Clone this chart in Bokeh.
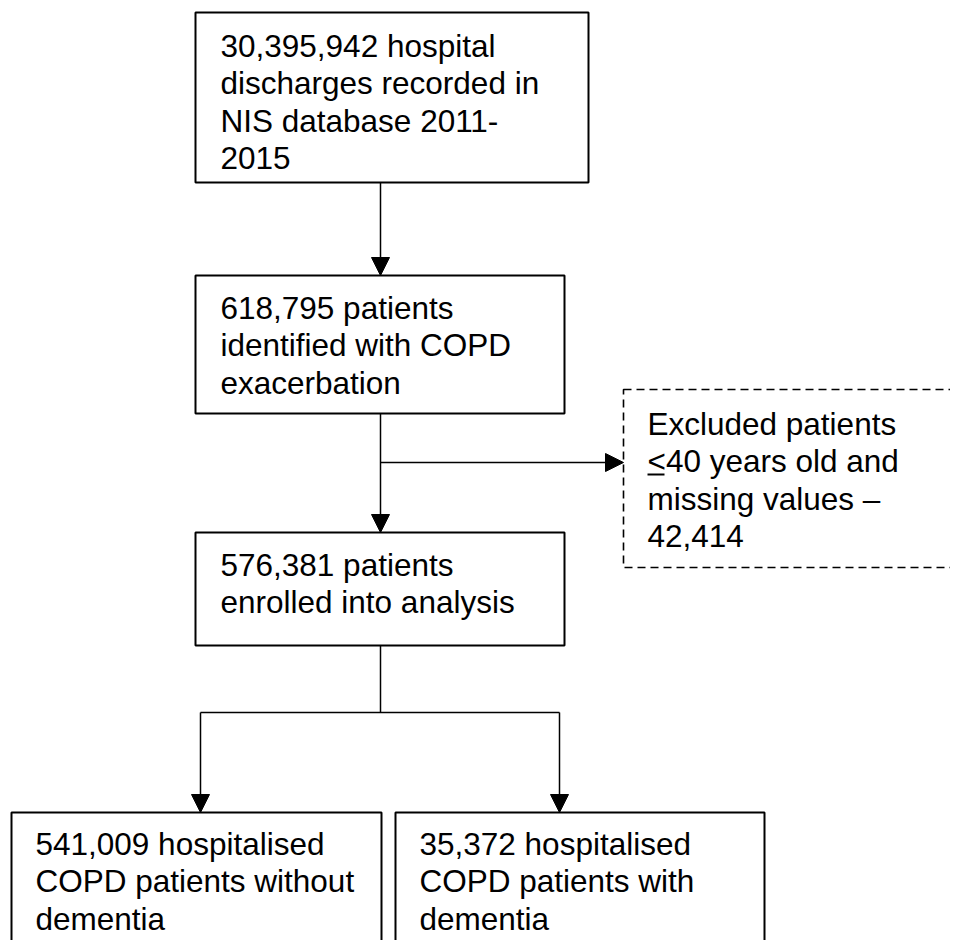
from bokeh.plotting import figure
from bokeh.models import Range1d, Arrow, NormalHead, ColumnDataSource
from bokeh.core.properties import value
from bokeh.embed import file_html
from bokeh.resources import INLINE

# ---- data (counts shown in the flow chart) ----
total_discharges = 30395942
copd_exacerbation = 618795
excluded = 42414
enrolled = 576381
without_dementia = 541009
with_dementia = 35372

box1_lines = [f"{total_discharges:,} hospital", "discharges recorded in", "NIS database 2011-", "2015"]
box2_lines = [f"{copd_exacerbation:,} patients", "identified with COPD", "exacerbation"]
excl_lines = ["Excluded patients", "<40 years old and", "missing values \u2013", f"{excluded:,}"]
box3_lines = [f"{enrolled:,} patients", "enrolled into analysis"]
box4_lines = [f"{without_dementia:,} hospitalised", "COPD patients without", "dementia"]
box5_lines = [f"{with_dementia:,} hospitalised", "COPD patients with", "dementia"]

# ---- layout ----
W, H = 950, 940
p = figure(width=W, height=H, output_backend="svg", toolbar_location=None,
           x_range=Range1d(0, W), y_range=Range1d(H, 0),
           min_border=0, outline_line_color=None)
p.axis.visible = False
p.grid.visible = False
p.background_fill_color = "white"
p.border_fill_color = "white"

FONT = value("Liberation Sans")
FS = "31.5px"
GAP = 37.5
TXT_DY = -10  # compensate glyph baseline offset

# solid boxes: left, right, top, bottom
boxes = {
    "b1": (195, 588, 12, 182),
    "b2": (195, 564, 275, 413),
    "b3": (195, 564, 532, 645),
    "b4": (11, 381, 812, 990),
    "b5": (395, 764, 812, 990),
}
src = ColumnDataSource(dict(
    left=[b[0] for b in boxes.values()], right=[b[1] for b in boxes.values()],
    top=[b[2] for b in boxes.values()], bottom=[b[3] for b in boxes.values()]))
p.quad(left="left", right="right", top="top", bottom="bottom", source=src,
       fill_color="white", line_color="black", line_width=2)

# dashed exclusion box
ex_l, ex_r, ex_t, ex_b = 623, 1000, 389, 567
p.quad(left=[ex_l], right=[ex_r], top=[ex_t], bottom=[ex_b], fill_color="white",
       line_color="black", line_width=1.6, line_dash="8 5")

# texts
def put(lines, x, y0):
    p.text(x=[x] * len(lines), y=[y0 + TXT_DY + i * GAP for i in range(len(lines))], text=lines,
           text_font=FONT, text_font_size=FS, text_color="black",
           text_baseline="alphabetic", text_align="left")

put(box1_lines, 220, 55)
put(box2_lines, 220, 317)
put(box3_lines, 220, 574)
put(box4_lines, 35, 853)
put(box5_lines, 419, 853)
put(excl_lines, 647, 433)
# underline of "<" (meaning <=)
p.segment(x0=[647], y0=[474], x1=[664], y1=[474], line_color="black", line_width=2)

# connectors
LW = 1.5
def arrow(x0, y0, x1, y1):
    p.add_layout(Arrow(x_start=x0, y_start=y0, x_end=x1, y_end=y1, line_width=LW,
                       line_color="black",
                       end=NormalHead(size=18, fill_color="black", line_color="black", line_width=1)))

arrow(380, 182, 380, 275)
arrow(380, 413, 380, 532)
arrow(380, 462, 623, 462)
p.segment(x0=[380, 200], y0=[645, 712], x1=[380, 559], y1=[712, 712], line_color="black", line_width=LW)
arrow(200, 712, 200, 812)
arrow(559, 712, 559, 812)

open("out.html", "w").write(file_html(p, INLINE))
